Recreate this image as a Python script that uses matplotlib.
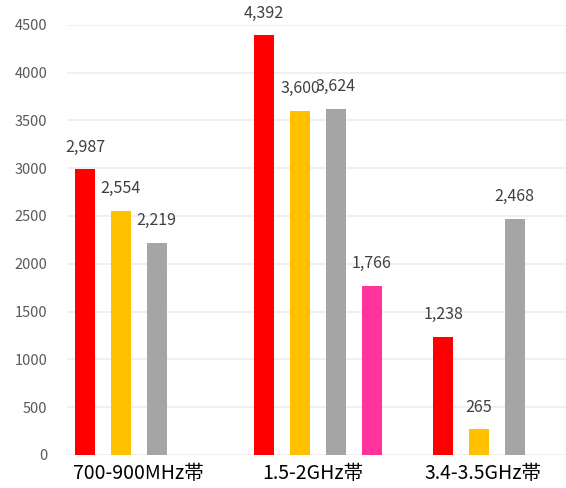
import numpy as np
import matplotlib.pyplot as plt

plt.rcParams['font.family'] = ['Noto Sans CJK JP', 'DejaVu Sans']

# data
categories = ['700-900MHz帯', '1.5-2GHz帯', '3.4-3.5GHz帯']
series_red = [2987, 4392, 1238]
series_yellow = [2554, 3600, 265]
series_gray = [2219, 3624, 2468]
series_pink = [None, 1766, None]
yticks = [0, 500, 1000, 1500, 2000, 2500, 3000, 3500, 4000, 4500]

colors = ['#FF0000', '#FFC000', '#A5A5A5', '#FF3399']
all_series = [series_red, series_yellow, series_gray, series_pink]

fig = plt.figure(figsize=(5.66, 4.88), dpi=100)
ax = fig.add_axes([0.118, 0.068, 0.882, 0.881])

x = np.arange(len(categories))
step = 0.2
width = 0.112

for k, (vals, col) in enumerate(zip(all_series, colors)):
    offs = (k - 1.5) * step
    for i, v in enumerate(vals):
        if v is None:
            continue
        ax.bar(x[i] + offs, v, width=width, color=col, zorder=2)
        ax.annotate(f'{v:,}', (x[i] + offs, v), xytext=(0, 16),
                    textcoords='offset points', ha='center', va='center',
                    fontsize=11.5, color='#404040')

ax.set_xlim(-0.402, 2.386)
ax.set_ylim(0, 4500)
ax.set_yticks(yticks)
# category labels sit slightly left of the group centres in the original
ax.set_xticks(x - np.array([0.0, 0.03, 0.08]))
ax.set_xticklabels(categories, fontsize=14, color='black')
ax.tick_params(axis='y', labelsize=10.5, labelcolor='#595959', length=0, pad=14)
ax.tick_params(axis='x', length=0, pad=6)
ax.grid(axis='y', color='#EEEEEE', linewidth=1.2, zorder=0)
ax.xaxis.grid(False)
for s in ax.spines.values():
    s.set_visible(False)

plt.savefig('out.png', dpi=100)
